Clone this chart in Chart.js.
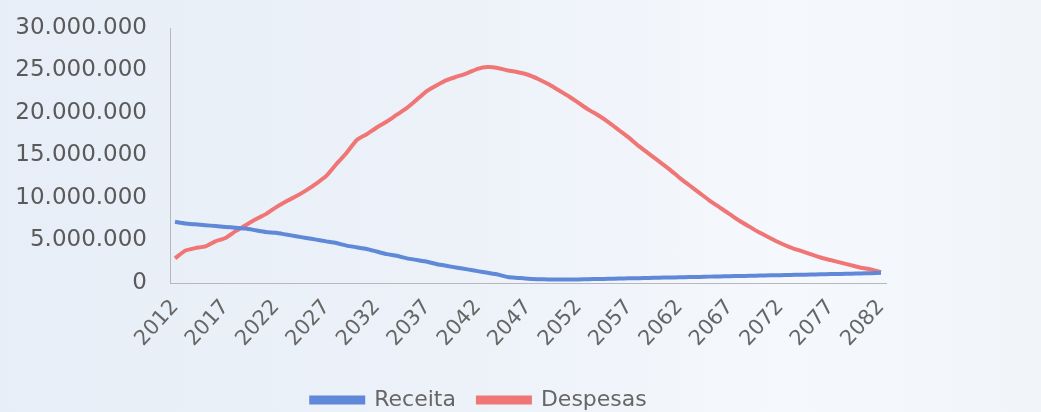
<!DOCTYPE html>
<html>
<head>
<meta charset="utf-8">
<script src="https://cdn.jsdelivr.net/npm/chart.js@4/dist/chart.umd.min.js"></script>
<style>
  html, body { margin: 0; padding: 0; }
  body {
    width: 1041px; height: 412px; overflow: hidden;
    background: linear-gradient(90deg, #e7eef7 0%, #edf2f9 45%, #f5f8fc 75%, #f1f5fa 100%);
  }
  canvas { display: block; }
</style>
</head>
<body>
<canvas id="chart" width="1041" height="412"></canvas>
<script>
// years on the x axis
const years = [];
for (let y = 2012; y <= 2082; y++) years.push(String(y));

// Receita (blue)
const receita = [
  7200000, 7000000, 6900000, 6800000, 6700000, 6600000, 6500000, 6400000, 6200000, 6000000,
  5900000, 5700000, 5500000, 5300000, 5100000, 4900000, 4700000, 4400000, 4200000, 4000000,
  3700000, 3400000, 3200000, 2900000, 2700000, 2500000, 2200000, 2000000, 1800000, 1600000,
  1400000, 1200000, 1000000, 700000, 600000, 500000, 450000, 420000, 400000, 400000,
  420000, 450000, 470000, 500000, 520000, 550000, 570000, 600000, 620000, 650000,
  670000, 700000, 720000, 750000, 770000, 800000, 820000, 850000, 870000, 900000,
  920000, 950000, 970000, 1000000, 1020000, 1050000, 1070000, 1100000, 1130000, 1160000,
  1200000
];

// Despesas (red)
const despesas = [
  2900000, 3800000, 4100000, 4300000, 4900000, 5300000, 6100000, 6800000, 7500000, 8100000,
  8900000, 9600000, 10200000, 10900000, 11700000, 12600000, 14000000, 15300000, 16800000, 17500000,
  18300000, 19000000, 19800000, 20600000, 21600000, 22600000, 23300000, 23900000, 24300000, 24700000,
  25200000, 25400000, 25300000, 25000000, 24800000, 24500000, 24000000, 23400000, 22700000, 22000000,
  21200000, 20400000, 19700000, 18900000, 18000000, 17100000, 16100000, 15200000, 14300000, 13400000,
  12400000, 11500000, 10600000, 9700000, 8900000, 8100000, 7300000, 6600000, 5900000, 5300000,
  4700000, 4200000, 3800000, 3400000, 3000000, 2700000, 2400000, 2100000, 1800000, 1600000,
  1300000
];

const blue = '#5f88d8';
const red = '#f07676';

function fmt(v) {
  return String(v).replace(/\B(?=(\d{3})+(?!\d))/g, '.');
}

// move the legend to where it sits in the picture
const legendShift = {
  id: 'legendShift',
  afterLayout(chart) {
    const lg = chart.legend;
    lg.left += 36; lg.right += 36;
    lg.top += 9; lg.bottom += 9;
  }
};

const ctx = document.getElementById('chart').getContext('2d');
new Chart(ctx, {
  type: 'line',
  data: {
    labels: years,
    datasets: [{
      label: 'Receita',
      data: receita,
      borderColor: blue,
      backgroundColor: blue,
      borderWidth: 4,
      pointRadius: 0,
      tension: 0.2,
      fill: false
    }, {
      label: 'Despesas',
      data: despesas,
      borderColor: red,
      backgroundColor: red,
      borderWidth: 4,
      pointRadius: 0,
      tension: 0.2,
      fill: false
    }]
  },
  options: {
    responsive: false,
    animation: false,
    devicePixelRatio: 1,
    layout: { padding: { top: 28, right: 155, left: 0, bottom: 0 } },
    plugins: {
      tooltip: { enabled: false },
      legend: {
        position: 'bottom',
        labels: {
          boxWidth: 52,
          boxHeight: 5,
          padding: 22,
          color: '#666666',
          font: { family: 'DejaVu Sans', size: 22 }
        }
      }
    },
    scales: {
      x: {
        type: 'category',
        offset: true,
        grid: { display: false, drawTicks: false },
        border: { display: true, color: '#b5b8bc', width: 1 },
        ticks: {
          autoSkip: false,
          minRotation: 48,
          maxRotation: 48,
          padding: 12,
          color: '#666666',
          font: { family: 'DejaVu Sans', size: 21 },
          callback: function (value, index) {
            return index % 5 === 0 ? this.getLabelForValue(value) : '';
          }
        },
        afterCalculateLabelRotation(scale) { scale.labelRotation = 48; },
        afterFit(scale) { scale.height = 75; }
      },
      y: {
        min: 0,
        max: 30000000,
        grid: { display: false, drawTicks: true, tickLength: 20 },
        border: { display: true, color: '#b5b8bc', width: 1 },
        ticks: {
          stepSize: 5000000,
          padding: 3,
          color: '#5a5a5a',
          font: { family: 'DejaVu Sans', size: 23 },
          callback: v => fmt(v)
        },
        afterFit(scale) { scale.width = 170; }
      }
    }
  },
  plugins: [legendShift]
});
</script>
</body>
</html>
